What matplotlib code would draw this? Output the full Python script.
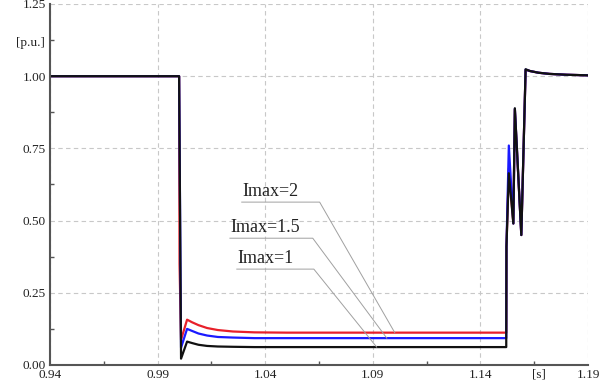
import numpy as np
import matplotlib.pyplot as plt
from matplotlib.ticker import MultipleLocator, FixedLocator

plt.rcParams['font.family'] = ['Liberation Serif', 'DejaVu Serif']

# time [s] and voltage [p.u.]
t_red = [0.94, 1.0, 1.0002, 1.0009, 1.0037, 1.006, 1.009, 1.013, 1.018, 1.025, 1.035, 1.05, 1.152,
         1.1521, 1.1532, 1.1553, 1.156, 1.159, 1.161, 1.163, 1.167, 1.172, 1.18, 1.19]
v_red = [1.0, 1.0, 0.35, 0.087, 0.157, 0.148, 0.138, 0.128, 0.121, 0.116, 0.113, 0.112, 0.112,
         0.41, 0.68, 0.49, 0.885, 0.45, 1.022, 1.018, 1.012, 1.008, 1.005, 1.003]

t_blue = [0.94, 1.0, 1.0009, 1.0037, 1.006, 1.009, 1.013, 1.018, 1.025, 1.035, 1.05, 1.152,
          1.1521, 1.1532, 1.1553, 1.156, 1.159, 1.161, 1.163, 1.167, 1.172, 1.18, 1.19]
v_blue = [1.0, 1.0, 0.06, 0.125, 0.118, 0.109, 0.102, 0.097, 0.095, 0.093, 0.093, 0.093,
          0.41, 0.76, 0.49, 0.887, 0.45, 1.023, 1.018, 1.012, 1.008, 1.005, 1.003]

t_black = [0.94, 1.0, 1.0009, 1.0037, 1.006, 1.009, 1.013, 1.018, 1.025, 1.035, 1.05, 1.152,
           1.1521, 1.1532, 1.1553, 1.156, 1.159, 1.161, 1.163, 1.167, 1.172, 1.18, 1.19]
v_black = [1.0, 1.0, 0.022, 0.081, 0.076, 0.070, 0.066, 0.064, 0.063, 0.062, 0.062, 0.062,
           0.41, 0.664, 0.49, 0.889, 0.45, 1.024, 1.018, 1.012, 1.008, 1.005, 1.003]

x_ticks = [0.94, 0.99, 1.04, 1.09, 1.14, 1.19]

labels = ['Imax=2', 'Imax=1.5', 'Imax=1']
label_x = [1.0291, 1.0236, 1.0268]      # start of underline
label_end = [1.0653, 1.0621, 1.0626]    # end of underline
label_y = [0.564, 0.439, 0.332]
point_x = [1.1002, 1.0965, 1.0918]      # where leader meets the curve
point_y = [0.112, 0.093, 0.062]

fig = plt.figure(figsize=(6.14, 3.92), dpi=100)
ax = fig.add_axes([0.0814, 0.0689, 0.8763, 0.9209])

ax.plot(t_red, v_red, color='#e8202a', lw=1.6)
ax.plot(t_blue, v_blue, color='#1a1aff', lw=1.6)
ax.plot(t_black, v_black, color='#111111', lw=1.6)

for lab, x0, x1, y0, px, py in zip(labels, label_x, label_end, label_y, point_x, point_y):
    ax.plot([x0, x1, px], [y0, y0, py], color='#a0a0a0', lw=0.7)
    ax.text(x0 + 0.0003, y0 + 0.008, lab, fontsize=13, ha='left', va='bottom', color='#222222')

ax.set_xlim(0.94, 1.19)
ax.set_ylim(0, 1.25)
ax.xaxis.set_major_locator(FixedLocator(x_ticks))
ax.xaxis.set_minor_locator(FixedLocator([x + 0.025 for x in x_ticks[:-1]]))
ax.yaxis.set_major_locator(MultipleLocator(0.25))
ax.yaxis.set_minor_locator(MultipleLocator(0.125))
ax.xaxis.set_major_formatter(plt.FormatStrFormatter('%.2f'))
ax.yaxis.set_major_formatter(plt.FormatStrFormatter('%.2f'))
ax.tick_params(which='both', direction='in', colors='#555555', labelcolor='#222222', labelsize=9.5)
ax.tick_params(which='major', length=0, pad=3)
ax.tick_params(which='minor', length=3, width=1)
ax.grid(True, which='major', color='#c8c8c8', ls=(0, (4, 3)), lw=0.8)

for s in ['top', 'right']:
    ax.spines[s].set_visible(False)
for s in ['left', 'bottom']:
    ax.spines[s].set_color('#555555')
    ax.spines[s].set_linewidth(1.5)

ax.text(1.167, -0.012, '[s]', fontsize=9.5, ha='center', va='top', color='#222222')
ax.text(0.9378, 1.115, '[p.u.]', fontsize=9.5, ha='right', va='center', color='#222222')

fig.savefig('out.png', dpi=100)
